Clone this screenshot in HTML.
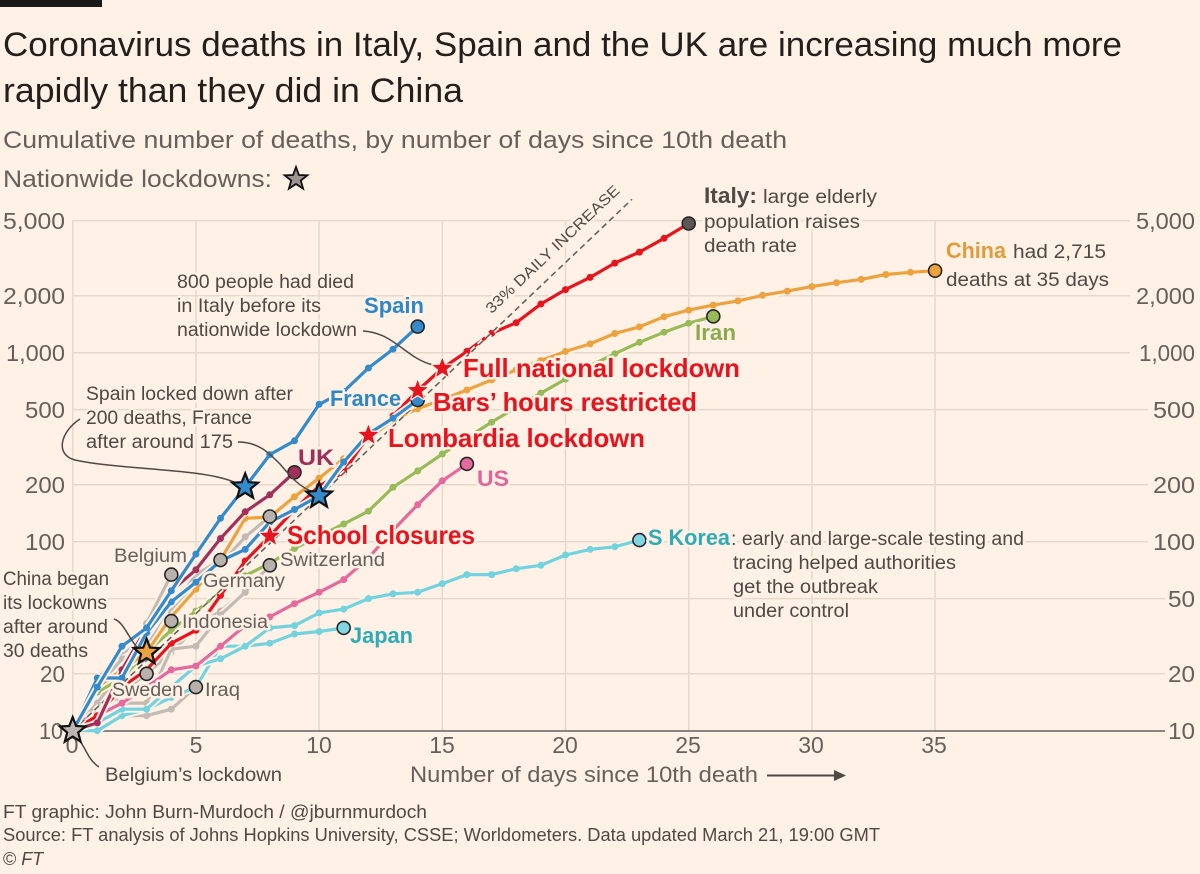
<!DOCTYPE html>
<html><head><meta charset="utf-8">
<style>
html,body{margin:0;padding:0;background:#fff1e5;}
svg{display:block;font-family:"Liberation Sans",Arial,sans-serif;}
.h{stroke:#fff1e5;stroke-width:5;stroke-linejoin:round;paint-order:stroke;}
.t{fill:#66605c;font-size:23px;}
.a{fill:#4f4946;font-size:19px;}
.g{fill:#66605c;font-size:19px;}
.b{font-weight:bold;font-size:22px;}
.r{font-weight:bold;font-size:26px;fill:#e6141e;}
.f{fill:#4f4946;font-size:18px;}
</style></head><body>
<svg id="chart" width="1200" height="874" viewBox="0 0 1200 874">
<rect x="0" y="0" width="1200" height="874" fill="#fff1e5"/>
<rect x="0" y="0" width="102" height="7" fill="#1a1a1a"/>
<text x="3" y="56" font-size="34" fill="#231f1c" textLength="1119" lengthAdjust="spacingAndGlyphs">Coronavirus deaths in Italy, Spain and the UK are increasing much more</text>
<text x="3" y="102" font-size="34" fill="#231f1c" textLength="460" lengthAdjust="spacingAndGlyphs">rapidly than they did in China</text>
<text x="3" y="148" font-size="24" fill="#66605c" textLength="784" lengthAdjust="spacingAndGlyphs">Cumulative number of deaths, by number of days since 10th death</text>
<text x="3" y="187" font-size="24" fill="#66605c" textLength="269" lengthAdjust="spacingAndGlyphs">Nationwide lockdowns:</text>
<polygon points="296,167 298.9,175 307.4,175.3 300.8,180.5 303.1,188.7 296,184 288.9,188.7 291.2,180.5 284.6,175.3 293.1,175" fill="#9a9490" stroke="#111" stroke-width="1.8"/>

<!-- grid -->
<g stroke="#e6d8cb" stroke-width="1.5" fill="none">
<line x1="72.7" y1="220.6" x2="72.7" y2="730.7"/>
<line x1="195.9" y1="220.6" x2="195.9" y2="730.7"/>
<line x1="319.1" y1="220.6" x2="319.1" y2="730.7"/>
<line x1="442.3" y1="220.6" x2="442.3" y2="730.7"/>
<line x1="565.5" y1="220.6" x2="565.5" y2="730.7"/>
<line x1="688.7" y1="220.6" x2="688.7" y2="730.7"/>
<line x1="811.9" y1="220.6" x2="811.9" y2="730.7"/>
<line x1="935.1" y1="220.6" x2="935.1" y2="730.7"/>
<line x1="72.7" y1="220.6" x2="1130" y2="220.6"/>
<line x1="72.7" y1="295.8" x2="1130" y2="295.8"/>
<line x1="72.7" y1="352.7" x2="1130" y2="352.7"/>
<line x1="72.7" y1="409.6" x2="1148" y2="409.6"/>
<line x1="72.7" y1="484.8" x2="1148" y2="484.8"/>
<line x1="72.7" y1="541.7" x2="1148" y2="541.7"/>
<line x1="72.7" y1="598.6" x2="1165" y2="598.6"/>
<line x1="72.7" y1="673.8" x2="1165" y2="673.8"/>
</g>
<line x1="72" y1="731" x2="1165" y2="731" stroke="#66605c" stroke-width="1.6"/>

<!-- y labels -->
<g class="t" text-anchor="end">
<text x="65" y="229" textLength="62" lengthAdjust="spacingAndGlyphs">5,000</text>
<text x="65" y="304" textLength="62" lengthAdjust="spacingAndGlyphs">2,000</text>
<text x="65" y="361" textLength="59" lengthAdjust="spacingAndGlyphs">1,000</text>
<text x="65" y="418" textLength="40" lengthAdjust="spacingAndGlyphs">500</text>
<text x="65" y="493" textLength="40" lengthAdjust="spacingAndGlyphs">200</text>
<text x="65" y="550" textLength="40" lengthAdjust="spacingAndGlyphs">100</text>
<text x="65" y="682" textLength="25" lengthAdjust="spacingAndGlyphs">20</text>
<text x="63" y="739" textLength="24" lengthAdjust="spacingAndGlyphs">10</text>
<text x="1195" y="229" textLength="59" lengthAdjust="spacingAndGlyphs">5,000</text>
<text x="1195" y="304" textLength="59" lengthAdjust="spacingAndGlyphs">2,000</text>
<text x="1195" y="361" textLength="56" lengthAdjust="spacingAndGlyphs">1,000</text>
<text x="1195" y="418" textLength="42" lengthAdjust="spacingAndGlyphs">500</text>
<text x="1195" y="493" textLength="42" lengthAdjust="spacingAndGlyphs">200</text>
<text x="1195" y="550" textLength="42" lengthAdjust="spacingAndGlyphs">100</text>
<text x="1195" y="607" textLength="27" lengthAdjust="spacingAndGlyphs">50</text>
<text x="1195" y="682" textLength="27" lengthAdjust="spacingAndGlyphs">20</text>
<text x="1195" y="739" textLength="27" lengthAdjust="spacingAndGlyphs">10</text>
</g>
<!-- x labels -->
<g class="t" text-anchor="middle">
<text x="72" y="753">0</text>
<text x="196" y="753">5</text>
<text x="319" y="753">10</text>
<text x="442" y="753">15</text>
<text x="565" y="753">20</text>
<text x="688" y="753">25</text>
<text x="811" y="753">30</text>
<text x="934" y="753">35</text>
</g>
<text x="410" y="782" font-size="22" fill="#66605c" textLength="348" lengthAdjust="spacingAndGlyphs">Number of days since 10th death</text>
<line x1="767" y1="775.5" x2="836" y2="775.5" stroke="#4f4946" stroke-width="2"/>
<polygon points="834,770 846,775.5 834,781" fill="#4f4946"/>

<g id="lines"></g>
<g id="marks"></g>

<!-- connectors -->
<g fill="none" stroke="#4f4946" stroke-width="1.5">
<path d="M363,331 C395,333 405,358 433,365"/>
<path d="M80,419 C60,432 55,455 75,460 C120,470 200,468 234,482"/>
<path d="M238,442 C258,442 268,452 280,464 C290,476 300,488 314,492"/>
<path d="M114,619 C124,622 128,638 140,651"/>
<path d="M79,740 C86,748 88,760 99,767"/>
</g>

<!-- labels -->
<g class="h">
<text transform="translate(556,253) rotate(-43.5)" text-anchor="middle" font-size="15" fill="#4f4946" textLength="178" lengthAdjust="spacingAndGlyphs">33% DAILY INCREASE</text>

<text class="a" x="177" y="288" textLength="177" lengthAdjust="spacingAndGlyphs">800 people had died</text>
<text class="a" x="177" y="312" textLength="144" lengthAdjust="spacingAndGlyphs">in Italy before its</text>
<text class="a" x="177" y="336" textLength="180" lengthAdjust="spacingAndGlyphs">nationwide lockdown</text>

<text class="a" x="86" y="400" textLength="207" lengthAdjust="spacingAndGlyphs">Spain locked down after</text>
<text class="a" x="86" y="424" textLength="166" lengthAdjust="spacingAndGlyphs">200 deaths, France</text>
<text class="a" x="86" y="448" textLength="147" lengthAdjust="spacingAndGlyphs">after around 175</text>

<text class="a" x="3" y="585" textLength="106" lengthAdjust="spacingAndGlyphs">China began</text>
<text class="a" x="3" y="609" textLength="104" lengthAdjust="spacingAndGlyphs">its lockowns</text>
<text class="a" x="3" y="633" textLength="105" lengthAdjust="spacingAndGlyphs">after around</text>
<text class="a" x="3" y="657" textLength="85" lengthAdjust="spacingAndGlyphs">30 deaths</text>

<text class="a" x="105" y="781" textLength="177" lengthAdjust="spacingAndGlyphs">Belgium’s lockdown</text>

<text class="g" x="114" y="562" textLength="73" lengthAdjust="spacingAndGlyphs">Belgium</text>
<text class="g" x="203" y="587" textLength="82" lengthAdjust="spacingAndGlyphs">Germany</text>
<text class="g" x="280" y="566" textLength="105" lengthAdjust="spacingAndGlyphs">Switzerland</text>
<text class="g" x="182" y="628" textLength="86" lengthAdjust="spacingAndGlyphs">Indonesia</text>
<text class="g" x="112" y="696" textLength="71" lengthAdjust="spacingAndGlyphs">Sweden</text>
<text class="g" x="205" y="696" textLength="35" lengthAdjust="spacingAndGlyphs">Iraq</text>

<text class="b" x="364" y="313" fill="#2d87c6" textLength="60" lengthAdjust="spacingAndGlyphs">Spain</text>
<text class="b" x="330" y="406" fill="#2d87c6" textLength="71" lengthAdjust="spacingAndGlyphs">France</text>
<text class="b" x="298" y="465" fill="#9e3058" textLength="36" lengthAdjust="spacingAndGlyphs">UK</text>
<text class="b" x="477" y="486" fill="#e0669a" textLength="32" lengthAdjust="spacingAndGlyphs">US</text>
<text class="b" x="350" y="643" fill="#2fabb5" textLength="63" lengthAdjust="spacingAndGlyphs">Japan</text>
<text class="b" x="695" y="340" fill="#8aab4c" textLength="41" lengthAdjust="spacingAndGlyphs">Iran</text>

<text class="b" x="648" y="545" fill="#2fabb5" textLength="82" lengthAdjust="spacingAndGlyphs">S Korea</text>
<text class="a" x="731" y="545" textLength="293" lengthAdjust="spacingAndGlyphs">: early and large-scale testing and</text>
<text class="a" x="733" y="569" textLength="223" lengthAdjust="spacingAndGlyphs">tracing helped authorities</text>
<text class="a" x="733" y="593" textLength="145" lengthAdjust="spacingAndGlyphs">get the outbreak</text>
<text class="a" x="733" y="617" textLength="116" lengthAdjust="spacingAndGlyphs">under control</text>

<text class="b" x="704" y="203" fill="#4f4946" textLength="53" lengthAdjust="spacingAndGlyphs">Italy:</text>
<text class="a" x="763" y="203" textLength="114" lengthAdjust="spacingAndGlyphs">large elderly</text>
<text class="a" x="704" y="228" textLength="156" lengthAdjust="spacingAndGlyphs">population raises</text>
<text class="a" x="704" y="252" textLength="93" lengthAdjust="spacingAndGlyphs">death rate</text>

<text class="b" x="946" y="258" fill="#e09b3b" textLength="60" lengthAdjust="spacingAndGlyphs">China</text>
<text class="a" x="1013" y="258" textLength="93" lengthAdjust="spacingAndGlyphs">had 2,715</text>
<text class="a" x="946" y="286" textLength="163" lengthAdjust="spacingAndGlyphs">deaths at 35 days</text>

<text class="r" x="463" y="377" textLength="277" lengthAdjust="spacingAndGlyphs">Full national lockdown</text>
<text class="r" x="433" y="411" textLength="264" lengthAdjust="spacingAndGlyphs">Bars’ hours restricted</text>
<text class="r" x="388" y="447" textLength="257" lengthAdjust="spacingAndGlyphs">Lombardia lockdown</text>
<text class="r" x="287" y="544" textLength="188" lengthAdjust="spacingAndGlyphs">School closures</text>
</g>

<g id="stars"></g>

<!-- footer -->
<text class="f" x="3" y="818" textLength="424" lengthAdjust="spacingAndGlyphs">FT graphic: John Burn-Murdoch / @jburnmurdoch</text>
<text class="f" x="3" y="841" textLength="877" lengthAdjust="spacingAndGlyphs">Source: FT analysis of Johns Hopkins University, CSSE; Worldometers. Data updated March 21, 19:00 GMT</text>
<text class="f" x="3" y="865">© <tspan font-style="italic">FT</tspan></text>
</svg>
<script>
(function(){
var svg=document.getElementById('chart');
var NS=svg.namespaceURI;
var BG='#fff1e5';
function X(d){return 72.7+24.64*d;}
function Y(v){return 541.7-189*(Math.log(v)/Math.LN10-2);}
var L=document.getElementById('lines'),M=document.getElementById('marks'),S=document.getElementById('stars');
function el(tag,a,p){var e=document.createElementNS(NS,tag);for(var k in a)e.setAttribute(k,a[k]);p.appendChild(e);return e;}
function pathOf(vals){var s='';for(var i=0;i<vals.length;i++){s+=(i?'L':'M')+X(i).toFixed(1)+','+Y(vals[i]).toFixed(1);}return s;}
function series(vals,color,dot,dotFill){
  var d=pathOf(vals);
  el('path',{d:d,fill:'none',stroke:BG,'stroke-width':7,'stroke-linejoin':'round','stroke-linecap':'round'},L);
  el('path',{d:d,fill:'none',stroke:color,'stroke-width':3.2,'stroke-linejoin':'round','stroke-linecap':'round'},L);
  var n=vals.length-1;
  for(var i=1;i<(dot?n:n+1);i++) el('circle',{cx:X(i).toFixed(1),cy:Y(vals[i]).toFixed(1),r:3.5,fill:color},L);
  if(dot){el('circle',{cx:X(n).toFixed(1),cy:Y(vals[n]).toFixed(1),r:6.5,fill:dotFill||color,stroke:'#262626','stroke-width':1.6},M);}
}
function starPts(cx,cy,R,r){var p=[];for(var i=0;i<10;i++){var a=-Math.PI/2+i*Math.PI/5;var rr=i%2?r:R;p.push((cx+rr*Math.cos(a)).toFixed(1)+','+(cy+rr*Math.sin(a)).toFixed(1));}return p.join(' ');}
var G='#c3bab3',GD='#b9b2ac';
series([11,13,16,20,26,35,43,55],G,false);
series([10,11.5,12,12,13,17],G,true,GD);
series([10,11,16,20],G,true,GD);
series([10,19,25,32,38],G,true,GD);
series([11,17,24,28,44,67,80],G,true,GD);
series([11,13,14,14,27,28,41,54,75],G,true,GD);
series([10,12,20,24,43,58,76,106,136],G,true,GD);
series([10,14,21,37,67],G,true,GD);
var C='#72d3df';
series([10,10,12,13,15,17,28,28,29,32.5,33.5,35],C,true,'#80d7e2');
series([10,11,13,13,17,22,24,28,35,36,42,44,50,53,54,60,67,67,72,75,85,91,94,102],C,true,'#80d7e2');
series([11,12,14,17,21,22,28,36,40,47,54,63,82,115,157,210,258],'#e4699d',true);
series([11,16,19,26,34,43,54,66,77,92,107,124,145,194,237,291,354,429,514,611,724,853,988,1135,1284,1433,1556],'#96bb58',true);
series([10,17,21,26,40,56,80,133,135,173,217,275,350,440,505,565,635,718,811,908,1016,1113,1264,1370,1550,1680,1785,1880,2013,2118,2236,2345,2442,2592,2663,2715],'#eca23e',true);
var IT=[10,12,17,21,29,34,52,79,107,148,197,233,366,463,631,827,1016,1266,1441,1809,2158,2503,2978,3405,4032,4825];
series(IT,'#e6141e',true,'#5b5754');
// 33% line
var dd='M'+X(0).toFixed(1)+','+Y(10).toFixed(1)+'L'+X(22.7).toFixed(1)+','+Y(10*Math.pow(1.33,22.7)).toFixed(1);
el('path',{d:dd,fill:'none',stroke:BG,'stroke-width':5,'stroke-dasharray':'6 4'},L);
el('path',{d:dd,fill:'none',stroke:'#66605c','stroke-width':1.6,'stroke-dasharray':'6 4'},L);
series([10,11,21,35,55,71,104,144,177,233],'#a3305c',true);
var B='#338bcb';
series([10,19,19,33,48,61,79,91,127,148,175,264,372,450,562],B,true);
series([10,17,28,35,55,86,133,195,289,342,533,623,830,1043,1375],B,true);
// red stars
[8,12,14,15].forEach(function(d){
  el('polygon',{points:starPts(X(d),Y(IT[d]),10.5,4.4),fill:'#e6141e',stroke:BG,'stroke-width':2.5,'paint-order':'stroke','stroke-linejoin':'round'},S);
});
// lockdown stars
[[7,195,B],[10,175,B],[3,26,'#eca23e'],[0,10,'#bdb6b0']].forEach(function(s){
  el('polygon',{points:starPts(X(s[0]),Y(s[1]),13.5,5.8),fill:s[2],stroke:'#111','stroke-width':2.2,'stroke-linejoin':'miter'},S);
});
})();
</script>
</body></html>
